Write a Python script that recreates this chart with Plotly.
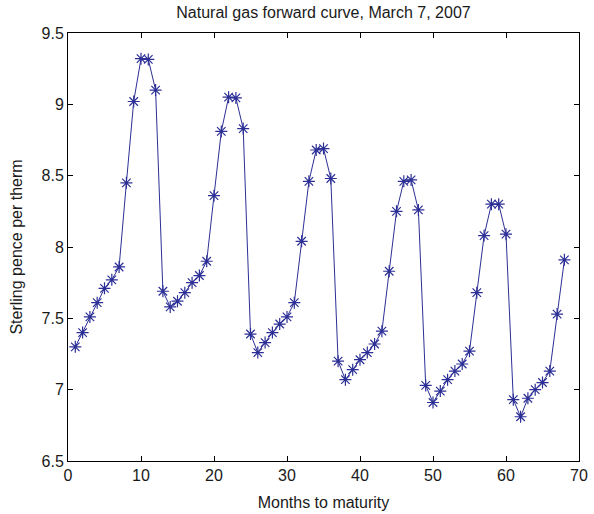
import plotly.graph_objects as go

months = list(range(1, 69))
prices = [
    7.30, 7.40, 7.51, 7.61, 7.71, 7.77, 7.86, 8.45, 9.02, 9.32, 9.315, 9.10,
    7.69, 7.58, 7.62, 7.68, 7.75, 7.80, 7.90, 8.36, 8.81, 9.05, 9.045, 8.83,
    7.39, 7.26, 7.33, 7.40, 7.46, 7.51, 7.61, 8.04, 8.46, 8.68, 8.69, 8.48,
    7.20, 7.07, 7.14, 7.21, 7.26, 7.32, 7.41, 7.83, 8.25, 8.46, 8.47, 8.26,
    7.03, 6.91, 6.99, 7.07, 7.13, 7.18, 7.27, 7.68, 8.08, 8.30, 8.30, 8.09,
    6.93, 6.81, 6.94, 7.00, 7.05, 7.13, 7.53, 7.91,
]
x_ticks = [0, 10, 20, 30, 40, 50, 60, 70]
y_ticks = [6.5, 7, 7.5, 8, 8.5, 9, 9.5]
y_tick_labels = ["6.5", "7", "7.5", "8", "8.5", "9", "9.5"]

color = "#2c2f95"
font = "Liberation Sans, Arial, sans-serif"
txt = "#1a1a1a"

fig = go.Figure(go.Scatter(
    x=months, y=prices, mode="lines+markers",
    line=dict(color=color, width=1),
    marker=dict(symbol="asterisk-open", size=10, color=color,
                line=dict(color=color, width=1.2)),
))

axis_common = dict(
    showgrid=False, zeroline=False, showline=True, linecolor="black",
    linewidth=1, mirror="ticks", ticks="inside", ticklen=5,
    tickcolor="black", tickfont=dict(family=font, size=16, color=txt),
    automargin=False,
)

fig.update_layout(
    width=594, height=514,
    margin=dict(l=68, r=15, t=33, b=53),
    paper_bgcolor="white", plot_bgcolor="white",
    showlegend=False,
    title=dict(text="Natural gas forward curve, March 7, 2007",
               x=0.5, xref="paper", xanchor="center",
               y=1 - 12.5 / 514, yanchor="middle",
               font=dict(family=font, size=16, color=txt)),
    xaxis=dict(range=[0, 70], tickvals=x_ticks,
               title=dict(text="Months to maturity", standoff=13,
                          font=dict(family=font, size=16, color=txt)),
               **axis_common),
    yaxis=dict(range=[6.5, 9.5], tickvals=y_ticks, ticktext=y_tick_labels,
               title=dict(text="Sterling pence per therm", standoff=14,
                          font=dict(family=font, size=16, color=txt)),
               **axis_common),
)

fig.write_html("out.html")
